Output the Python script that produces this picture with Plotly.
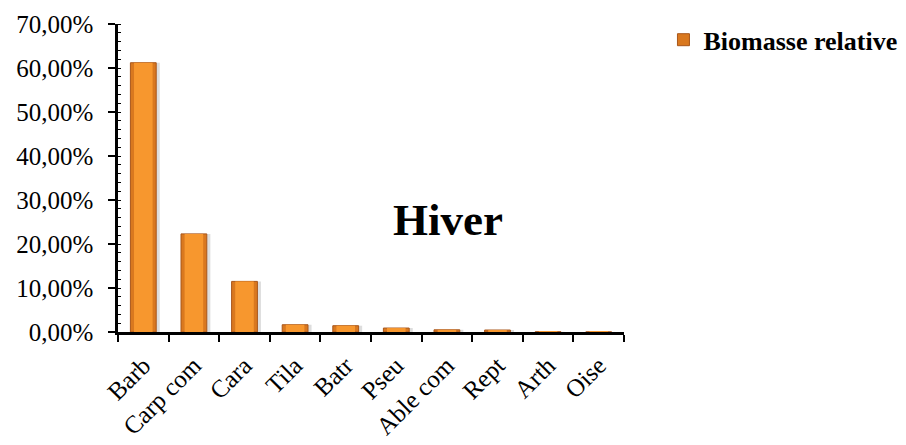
import plotly.graph_objects as go

# Relative biomass per prey group (winter)
categories = ["Barb", "Carp com", "Cara", "Tila", "Batr", "Pseu",
              "Able com", "Rept", "Arth", "Oise"]
biomasse_relative = [0.612, 0.223, 0.115, 0.0165, 0.0143, 0.009,
                     0.005, 0.0045, 0.0005, 0.0002]
y_ticks = [0, 0.1, 0.2, 0.3, 0.4, 0.5, 0.6, 0.7]
series_name = "Biomasse relative"
season = "Hiver"

SERIF = "Liberation Serif"
BAR_W = 0.51

fig = go.Figure()
# soft drop shadow behind each bar
fig.add_trace(go.Bar(
    x=categories, y=biomasse_relative, width=BAR_W,
    offset=-BAR_W / 2 + 0.07,
    marker=dict(color="rgba(120,120,120,0.25)", line=dict(width=0)),
    showlegend=False, hoverinfo="skip",
))
# main bars (darker rim)
fig.add_trace(go.Bar(
    x=categories, y=biomasse_relative, width=BAR_W,
    offset=-BAR_W / 2,
    name=series_name,
    marker=dict(color="#D9781F", line=dict(color="#A8561A", width=1)),
    showlegend=True,
))
# lighter bevelled face
fig.add_trace(go.Bar(
    x=categories, y=biomasse_relative, width=BAR_W * 0.72,
    offset=-BAR_W * 0.36,
    marker=dict(color="#F7972E", line=dict(width=0)),
    showlegend=False, hoverinfo="skip",
))

fig.update_layout(
    width=906, height=445,
    margin=dict(l=118, r=282, t=24, b=113, autoexpand=False),
    paper_bgcolor="white", plot_bgcolor="white",
    separators=", ",
    barmode="overlay",
    font=dict(family=SERIF, color="black", size=25),
    showlegend=True,
    legend=dict(
        x=1.078, y=1.025, xanchor="left", yanchor="top",
        font=dict(family=SERIF, size=26, weight="bold"),
        bgcolor="rgba(0,0,0,0)",
    ),
    xaxis=dict(
        type="category",
        showline=True, linecolor="black", linewidth=3,
        ticks="outside", tickson="boundaries", ticklen=7,
        tickwidth=2, tickcolor="black",
        tickangle=-45, ticklabelstandoff=6,
        tickfont=dict(family=SERIF, size=25),
        showgrid=False, zeroline=False, automargin=False,
    ),
    xaxis2=dict(
        overlaying="x", anchor="y", type="linear",
        range=[-0.5, 9.5],
        showline=False, showticklabels=False,
        ticks="", showgrid=False, zeroline=False,
        minor=dict(ticks="outside", dtick=0.1, tick0=-0.5,
                   ticklen=2, tickwidth=1, tickcolor="black",
                   showgrid=False),
    ),
    yaxis=dict(
        range=[0, 0.7], tickvals=y_ticks, tickformat=".2%",
        showline=True, linecolor="black", linewidth=2.5,
        ticks="outside", ticklen=7, tickwidth=2, tickcolor="black",
        ticklabelstandoff=10,
        minor=dict(ticks="inside", dtick=0.02, ticklen=3,
                   tickwidth=1, tickcolor="black", showgrid=False),
        tickfont=dict(family=SERIF, size=25),
        showgrid=False, zeroline=False, automargin=False,
    ),
    annotations=[dict(
        text=season, xref="paper", yref="paper",
        x=0.652, y=0.364, xanchor="center", yanchor="middle",
        showarrow=False,
        font=dict(family=SERIF, size=45, weight="bold", color="black"),
    )],
)

fig.write_html("out.html")
